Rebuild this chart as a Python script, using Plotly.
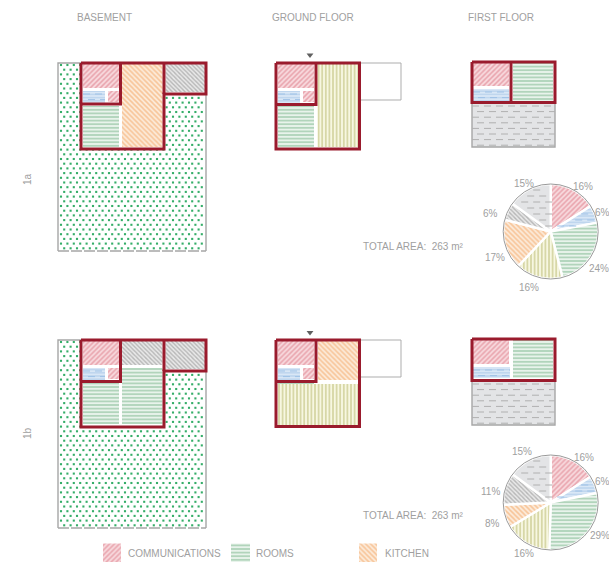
import math
import plotly.graph_objects as go

# ---------- data ----------
pie_order = ["communications", "services", "rooms", "living", "kitchen", "storage", "unheated"]
pie_1a = [16, 6, 24, 16, 17, 6, 15]
pie_1b = [16, 6, 29, 16, 8, 11, 15]
pie_1a_label_x = [583, 602, 599, 529, 495, 490, 524]
pie_1a_label_y = [186, 212, 268, 287, 257, 213, 183]
pie_1b_label_x = [584, 602, 600, 524, 492, 490, 522]
pie_1b_label_y = [457, 481, 535, 553, 523, 491, 451]
row_labels = ["1a", "1b"]
floor_labels = ["BASEMENT", "GROUND FLOOR", "FIRST FLOOR"]
total_area = "TOTAL AREA:  263 m²"

# room extents per plan: kind, left, right, top, bottom
plan_1a_rooms = [
    ("site", 58, 206, 63, 251), ("void", 81, 164, 63, 149), ("void", 164, 206, 63, 94),
    ("communications", 83, 119, 64, 88), ("services", 83, 105, 91, 103),
    ("communications", 108, 119, 91, 102), ("rooms", 83, 119, 106, 147), ("kitchen", 122, 162.5, 64, 147),
    ("storage", 165.5, 205, 64, 92),
    ("communications", 278, 314, 64, 88), ("services", 278, 300, 91, 103), ("communications", 303, 314, 91, 102),
    ("rooms", 278, 314, 106, 147), ("living", 317.5, 358, 64, 147),
    ("communications", 473, 509, 63, 86), ("services", 473, 509, 89, 101), ("rooms", 513, 553, 63, 101),
    ("unheated", 472, 555, 103, 147),
]
plan_1b_rooms = [
    ("site", 58, 206, 340, 528), ("void", 81, 164, 340, 427), ("void", 164, 206, 340, 371),
    ("communications", 83, 119, 341, 365), ("services", 83, 105, 368, 380),
    ("communications", 108, 119, 368, 379), ("rooms", 83, 119, 383, 424), ("storage", 122, 162.5, 341, 365),
    ("rooms", 122, 162.5, 368, 424), ("storage", 165.5, 205, 341, 369),
    ("communications", 278, 314, 341, 365), ("services", 278, 300, 368, 380), ("communications", 303, 314, 368, 379),
    ("rooms", 278, 314, 383, 424), ("kitchen", 318, 358, 341, 380), ("living", 278, 358, 384, 425),
    ("communications", 473, 509, 340, 364), ("services", 473, 510, 367, 378), ("rooms", 513, 553, 340, 378),
    ("unheated", 472, 555, 381, 425),
]
# red wall outlines (closed or open polylines)
walls = [
    [(81, 63), (206, 63), (206, 94), (164, 94), (164, 149), (81, 149), (81, 63)],
    [(120.5, 63), (120.5, 104), (81, 104)], [(164, 63), (164, 94)],
    [(276, 63), (359.5, 63), (359.5, 149), (276, 149), (276, 63)], [(316, 63), (316, 104.5), (276, 104.5)],
    [(472, 62), (555, 62), (555, 102.5), (472, 102.5), (472, 62)], [(511, 62), (511, 102.5)],
    [(81, 340), (206, 340), (206, 371), (164, 371), (164, 427), (81, 427), (81, 340)],
    [(120.5, 340), (120.5, 381.5), (81, 381.5)], [(164, 340), (164, 371)],
    [(276, 340), (359.5, 340), (359.5, 426.5), (276, 426.5), (276, 340)], [(316, 340), (316, 381.5), (276, 381.5)],
    [(472, 339), (555, 339), (555, 380.5), (472, 380.5), (472, 339)],
]
annexes = [(359.5, 401, 63, 100), (359.5, 401, 340, 377)]

# ---------- styles ----------
STY = {
    "communications": dict(shape="/", fg="#e9a4ad", bg="#f8dade", size=3.5, sol=0.45),
    "services": dict(shape="-", fg="#aecbea", bg="#d9e7f6", size=3.2, sol=0.3),
    "rooms": dict(shape="-", fg="#9fcaac", bg="#e8f3eb", size=3.6, sol=0.38),
    "living": dict(shape="|", fg="#cdcd95", bg="#f7f7e1", size=3.6, sol=0.38),
    "kitchen": dict(shape="\\", fg="#f7c294", bg="#fdeedf", size=3.5, sol=0.45),
    "storage": dict(shape="\\", fg="#b6b6b6", bg="#e9e9e9", size=3, sol=0.45),
    "unheated": dict(shape="", fg="#b0b0b0", bg="#e3e4e6", size=4, sol=0.2),
    "site": dict(shape="", fg="#ffffff", bg="#ffffff", size=4, sol=0.2),
    "void": dict(shape="", fg="#ffffff", bg="#ffffff", size=4, sol=0.2),
}
RED = "#9a1b2d"
TXT = "#a0a0a0"
DOT = "#35ad68"
EDGE = "#a6a6a6"


def pat(kind):
    s = STY[kind]
    return dict(shape=s["shape"], fgcolor=s["fg"], bgcolor=s["bg"], size=s["size"], solidity=s["sol"], fgopacity=1)


fig = go.Figure()


def add_rect(kind, x0, x1, y0, y1):
    if kind == "site":
        # open outline on three sides; its bottom edge is dashed and drawn separately
        xs, ys, border = [x0, x0, x1, x1], [y1, y0, y0, y1], dict(color=EDGE, width=1.4)
    elif kind == "unheated":
        xs, ys, border = [x0, x1, x1, x0, x0], [y0, y0, y1, y1, y0], dict(color=EDGE, width=1.4)
    else:
        xs, ys, border = [x0, x1, x1, x0, x0], [y0, y0, y1, y1, y0], dict(width=0)
    fig.add_trace(go.Scatter(
        x=xs, y=ys, mode="lines", fill="toself",
        fillcolor=STY[kind]["bg"], fillpattern=pat(kind), line=border, hoverinfo="skip", showlegend=False))


def add_dashes(kind, x0, x1, y0, y1):
    step = 5.6
    y = y0 + 3
    odd = False
    while y < y1 - 1:
        start = x0 + (5 if odd else 0)
        fig.add_trace(go.Scatter(x=[start, x1], y=[y, y], mode="lines",
                                 line=dict(color=STY[kind]["fg"] if kind == "unheated" else "#9fc2e6",
                                           width=1, dash="7px,5px"),
                                 hoverinfo="skip", showlegend=False))
        y += step
        odd = not odd


def add_site_dots(x0, x1, y0, y1):
    xs, ys = [], []
    y = y0 + 2
    row = 0
    while y < y1 - 1:
        x = x0 + 3 + (row % 2) * 3.2
        while x < x1 - 1:
            xs.append(x)
            ys.append(y)
            x += 6.4
        y += 4.7
        row += 1
    fig.add_trace(go.Scatter(x=xs, y=ys, mode="markers", hoverinfo="skip", showlegend=False,
                             marker=dict(symbol="square", size=2.1, color=DOT, line=dict(width=0))))
    fig.add_trace(go.Scatter(x=[x0, x1], y=[y1, y1], mode="lines", hoverinfo="skip", showlegend=False,
                             line=dict(color=EDGE, width=1.4, dash="11px,2px")))


for room in plan_1a_rooms + plan_1b_rooms:
    add_rect(*room)
    if room[0] == "site":
        add_site_dots(*room[1:])
    if room[0] in ("services", "unheated"):
        add_dashes(*room)

for x0, x1, y0, y1 in annexes:
    fig.add_trace(go.Scatter(x=[x0, x1, x1, x0], y=[y0, y0, y1, y1], mode="lines",
                             line=dict(color="#adadad", width=1), hoverinfo="skip", showlegend=False))

for w in walls:
    fig.add_trace(go.Scatter(x=[p[0] for p in w], y=[p[1] for p in w], mode="lines",
                             line=dict(color=RED, width=3), hoverinfo="skip", showlegend=False))

# entrance triangles
fig.add_trace(go.Scatter(x=[310, 310], y=[55, 332.5], mode="markers",
                         marker=dict(symbol="triangle-down", size=6, color="#606060", line=dict(width=0)),
                         hoverinfo="skip", showlegend=False))

W, H = 609, 564
PIE_R = 47.5
shapes = []


def add_pie(values, cx, cy, lx, ly):
    fig.add_trace(go.Pie(
        values=values, sort=False, direction="clockwise", rotation=0, textinfo="none", hoverinfo="skip",
        marker=dict(colors=[STY[k]["bg"] for k in pie_order],
                    pattern=dict(shape=[STY[k]["shape"] for k in pie_order],
                                 fgcolor=[STY[k]["fg"] for k in pie_order],
                                 bgcolor=[STY[k]["bg"] for k in pie_order],
                                 size=[STY[k]["size"] for k in pie_order],
                                 solidity=[STY[k]["sol"] for k in pie_order]),
                    line=dict(color="#ffffff", width=2.4)),
        domain=dict(x=[(cx - PIE_R) / W, (cx + PIE_R) / W], y=[1 - (cy + PIE_R) / H, 1 - (cy - PIE_R) / H]),
        showlegend=False))
    shapes.append(dict(type="circle", xref="x", yref="y", x0=cx - PIE_R, x1=cx + PIE_R, y0=cy - PIE_R, y1=cy + PIE_R,
                       line=dict(color="#9a9a9a", width=1), layer="above"))
    # dashed hatching inside the "services" and "unheated" slices
    tot = sum(values)
    cum = 0
    for k, v in zip(pie_order, values):
        a0, a1 = cum / tot * 360, (cum + v) / tot * 360
        cum += v
        if k not in ("services", "unheated"):
            continue
        path = ""
        y = cy - PIE_R
        row = 0
        while y < cy + PIE_R:
            x = cx - PIE_R + (row % 2) * 6
            while x < cx + PIE_R:
                mx, my = x + 3.5, y
                r = math.hypot(mx - cx, my - cy)
                ang = math.degrees(math.atan2(mx - cx, cy - my)) % 360
                if 4 < r < PIE_R - 2 and a0 + 3 < ang < a1 - 3:
                    path += f"M{x:.1f},{y:.1f}L{x + 7:.1f},{y:.1f}"
                x += 12
            y += 6
            row += 1
        if path:
            shapes.append(dict(type="path", path=path, xref="x", yref="y", layer="above",
                               line=dict(color="#9fc2e6" if k == "services" else STY[k]["fg"], width=1)))
    for v, x, y in zip(values, lx, ly):
        fig.add_annotation(x=x, y=y, text=f"{v}%", showarrow=False, font=dict(size=10, color=TXT, family="Liberation Sans"))


add_pie(pie_1a, 550.7, 231.5, pie_1a_label_x, pie_1a_label_y)
add_pie(pie_1b, 550.7, 502.5, pie_1b_label_x, pie_1b_label_y)


def label(x, y, text, size=10, angle=0, anchor="center"):
    fig.add_annotation(x=x, y=y, text=text, showarrow=False, textangle=angle, xanchor=anchor,
                       xshift=-2 if anchor == "left" else 0,
                       font=dict(size=size, color=TXT, family="Liberation Sans"))


for x, t in zip([104, 313, 500.5], floor_labels):
    label(x, 17.5, t)
for y, t in zip([179, 433], row_labels):
    label(27, y, t, size=10, angle=-90)
for y in (246, 515):
    label(363, y, total_area, anchor="left")

# legend
legend_items = [("communications", "COMMUNICATIONS", 103, 121, 128), ("rooms", "ROOMS", 231, 250, 256),
                ("kitchen", "KITCHEN", 359, 377, 385)]
for k, t, x0, x1, tx in legend_items:
    add_rect(k, x0, x1, 543.5, 562)
    label(tx, 553.5, t, anchor="left")

fig.update_layout(
    width=W, height=H, margin=dict(l=0, r=0, t=0, b=0), paper_bgcolor="white", plot_bgcolor="white",
    xaxis=dict(range=[0, W], visible=False, fixedrange=True),
    yaxis=dict(range=[H, 0], visible=False, fixedrange=True),
    shapes=shapes, showlegend=False)
fig.write_html("out.html", config={"displayModeBar": False}, post_script="document.body.style.margin='0';")
